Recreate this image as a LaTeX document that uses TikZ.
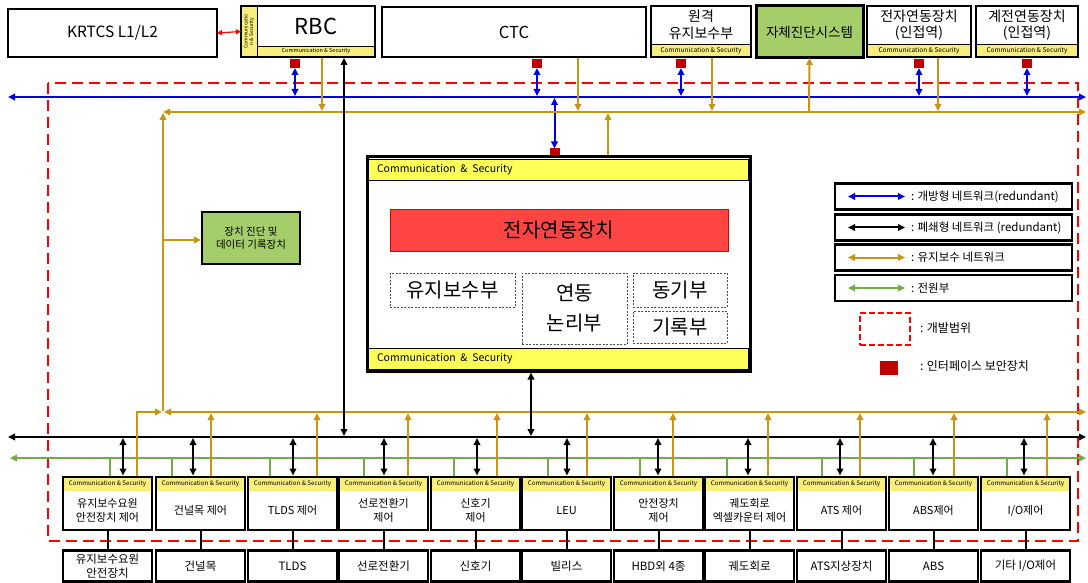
\documentclass[tikz,border=0pt]{standalone}
\usepackage{fontspec}
\setmainfont{Noto Sans CJK KR}
\usetikzlibrary{arrows.meta}
\definecolor{cblue}{RGB}{0,0,230}
\definecolor{cgold}{RGB}{200,150,20}
\definecolor{cgreen}{RGB}{112,173,71}
\definecolor{cyel}{RGB}{255,255,90}
\definecolor{cyel2}{RGB}{247,238,125}
\definecolor{cbar}{RGB}{255,68,68}
\definecolor{csq}{RGB}{192,0,0}
\definecolor{cgbox}{RGB}{165,205,105}
\begin{document}
\begin{tikzpicture}[x=1pt,y=-1pt,
  every node/.style={inner sep=0pt, outer sep=0pt},
  >={Triangle[length=7pt,width=6.5pt]},
  bord/.style={draw=black, line width=2.5pt},
  wbox/.style={fill=white, align=center},
  strip/.style={fill=cyel2, draw=black, line width=0.5pt, font=\fontsize{6.2}{7}\selectfont},
  blu/.style={draw=cblue, line width=2pt},
  gld/.style={draw=cgold, line width=2pt},
  grn/.style={draw=cgreen, line width=2pt},
  blk/.style={draw=black, line width=2pt},
  sqr/.style={fill=csq, minimum width=10pt, minimum height=9pt},
  dbox/.style={draw=black!70, line width=0.7pt, dash pattern=on 2pt off 1.5pt, align=center, font=\fontsize{20}{30}\selectfont}
]
\useasboundingbox (0,0) rectangle (1088,583);
\fill[white] (0,0) rectangle (1088,583);

% development scope
\draw[draw=red, line width=2.6pt, dash pattern=on 11pt off 6pt] (48,83) rectangle (1078,541);

% ---------- top row ----------
\node[wbox, bord, minimum width=209pt, minimum height=48pt, font=\fontsize{15.5}{18}\selectfont] (krtcs) at (112.5,33) {KRTCS L1/L2};

\node[fill=white, minimum width=118pt, minimum height=40pt, font=\fontsize{22}{26}\selectfont] (rbc) at (316,26) {RBC};
\node[strip, minimum width=118pt, minimum height=11pt, anchor=north west, font=\fontsize{5.5}{6}\selectfont] (rbcs) at (257,46) {Communication \& Security};
\node[strip, minimum width=16pt, minimum height=51pt, anchor=north west] (rbcl) at (241,6) {};
\node[rotate=90, align=center, font=\fontsize{5}{5.5}\selectfont] (rbclt) at (rbcl.center) {Communicatio\\n \& Security};
\draw[bord] (rbcl.north west) rectangle (rbcs.south east);
\draw[draw=red, line width=1.2pt, {Triangle[length=5pt,width=5pt]}-{Triangle[length=5pt,width=5pt]}] (krtcs.east) -- (rbcl.west);

\node[wbox, bord, minimum width=264pt, minimum height=50pt, font=\fontsize{16.5}{19}\selectfont] (ctc) at (514,32) {CTC};

\node[wbox, minimum width=100pt, minimum height=38pt, font=\fontsize{14}{17}\selectfont] (rm) at (701,25) {원격\\유지보수부};
\node[strip, minimum width=100pt, minimum height=13pt, anchor=north west, font=\fontsize{6.5}{7}\selectfont] (rms) at (651,44) {Communication \& Security};
\draw[bord] (rm.north west) rectangle (rms.south east);

\node[bord, line width=3pt, fill=cgbox, minimum width=107pt, minimum height=52pt, font=\fontsize{13.5}{16}\selectfont] (self) at (809.5,32) {자체진단시스템};

\node[wbox, minimum width=104pt, minimum height=38pt, font=\fontsize{14}{16}\selectfont] (ei) at (919,25) {전자연동장치\\(인접역)};
\node[strip, minimum width=104pt, minimum height=13pt, anchor=north west, font=\fontsize{6.5}{7}\selectfont] (eis) at (867,44) {Communication \& Security};
\draw[bord] (ei.north west) rectangle (eis.south east);

\node[wbox, minimum width=102pt, minimum height=38pt, font=\fontsize{14}{16}\selectfont] (ri) at (1027,25) {계전연동장치\\(인접역)};
\node[strip, minimum width=102pt, minimum height=13pt, anchor=north west, font=\fontsize{6.5}{7}\selectfont] (ris) at (976,44) {Communication \& Security};
\draw[bord] (ri.north west) rectangle (ris.south east);

% interface security devices
\node[sqr] (q1) at (295,63.5) {};
\node[sqr] (q2) at (537,63.5) {};
\node[sqr] (q3) at (681,63.5) {};
\node[sqr] (q4) at (919,63.5) {};
\node[sqr] (q5) at (1027,63.5) {};
\node[sqr] (q6) at (554.5,153) {};

% ---------- open network (blue) ----------
\draw[blu,<->] (8,97) -- (1086,97);
\draw[blu,<->] (q1.south) -- (295,96);
\draw[blu,<->] (q2.south) -- (537,96);
\draw[blu,<->] (q3.south) -- (681,96);
\draw[blu,<->] (q4.south) -- (919,96);
\draw[blu,<->] (q5.south) -- (1027,96);
\draw[blu,<->] (554.5,98) -- (q6.north);

% ---------- maintenance network (gold) ----------
\draw[gld,<->] (163,112) -- (1086,112);
\draw[gld,->] (322,58) -- (322,111);
\draw[gld,->] (578,58) -- (578,111);
\draw[gld,->] (712,58) -- (712,111);
\draw[gld,->] (938,58) -- (938,111);
\draw[gld,->] (809,112) -- (self.south);
\draw[gld,->] (608,157) -- (608,113);
\draw[gld,->] (163,411) -- (163,113);
\draw[gld,<->] (164,412) -- (1086,412);
\draw[gld,->] (163,240) -- (201,240);

\node[bord, fill=cgbox, minimum width=98pt, minimum height=52pt, align=center, font=\fontsize{10.5}{13}\selectfont] (diag) at (251,238) {장치 진단 및\\데이터 기록장치};

% ---------- closed network (black), power (green) ----------
\draw[blk,<->] (8,437) -- (1086,437);
\draw[grn,<->] (10,458) -- (1086,458);
\draw[blk,<->] (344,58) -- (344,436);

% ---------- central interlocking ----------
\node[fill=white, minimum width=383pt, minimum height=214pt] (eil) at (558.5,264) {};
\node[fill=cyel, draw=black, line width=0.8pt, minimum width=380pt, minimum height=21pt, anchor=north west] (eilt) at (368.5,159) {};
\node[anchor=west, font=\fontsize{10.5}{12}\selectfont] (eiltt) at (377,170) {Communication\ \ \&\ \ Security};
\node[fill=cyel, draw=black, line width=0.8pt, minimum width=380pt, minimum height=21pt, anchor=north west] (eilb) at (368.5,348) {};
\node[anchor=west, font=\fontsize{10.5}{12}\selectfont] (eilbt) at (377,358.5) {Communication\ \ \&\ \ Security};
\node[fill=cbar, draw=red!85!black, line width=0.6pt, minimum width=338pt, minimum height=42pt, font=\fontsize{20}{24}\selectfont] (bar) at (559,230) {전자연동장치};
\node[dbox, minimum width=125pt, minimum height=34pt] (mt) at (452.5,290) {유지보수부};
\node[dbox, minimum width=105pt, minimum height=71pt] (lg) at (574.5,308.5) {연동\\논리부};
\node[dbox, minimum width=94pt, minimum height=34pt] (sy) at (680,290) {동기부};
\node[dbox, minimum width=94pt, minimum height=32pt] (rc) at (680,327) {기록부};
\draw[bord, line width=3pt] (eil.north west) rectangle (eil.south east);
\draw[blk,<->] (531,372.5) -- (531,436);

% ---------- legend ----------
\foreach \n/\y/\c/\t in {1/196.5/cblue/{: 개방형 네트워크(redundant)}, 2/227.5/black/{: 폐쇄형 네트워크 (redundant)}, 3/257.5/cgold/{: 유지보수 네트워크}, 4/288/cgreen/{: 전원부}}{
  \node[bord, minimum width=237pt, minimum height=26pt] (lg\n) at (953.5,\y) {};
  \draw[draw=\c, line width=2pt, <->] (848,\y) -- (905,\y);
  \node[anchor=west, font=\fontsize{11.5}{13}\selectfont] (lt\n) at (911,\y) {\t};
}
\node[draw=red, line width=2.2pt, dash pattern=on 6pt off 3pt, minimum width=50pt, minimum height=32pt] (lgd) at (885,329) {};
\node[anchor=west, font=\fontsize{12}{14}\selectfont] (lgdt) at (920,328) {: 개발범위};
\node[fill=csq, minimum width=18pt, minimum height=14pt] (lgq) at (889,368) {};
\node[anchor=west, font=\fontsize{12}{14}\selectfont] (lgqt) at (920,366) {: 인터페이스 보안장치};

% ---------- field controllers and devices ----------
\foreach \i/\L/\t/\dt/\bx/\gx/\grx in {
  1/63/{유지보수요원\\안전장치 제어}/{유지보수요원\\안전장치}/123/137/110,
  2/156/{건널목 제어}/{건널목}/193/211/172,
  3/248/{TLDS 제어}/{TLDS}/293/317/270,
  4/339/{선로전환기\\제어}/{선로전환기}/384/408/364,
  5/431/{신호기\\제어}/{신호기}/477/497/454,
  6/522/{LEU}/{빌리스}/567/587/548,
  7/614/{안전장치\\제어}/{HBD외 4종}/658/673/640,
  8/705/{궤도회로\\엑셀카운터 제어}/{궤도회로}/748/768/727,
  9/797/{ATS 제어}/{ATS지상장치}/840/860/822,
  10/889/{ABS제어}/{ABS}/933/954/914,
  11/981/{I/O제어}/{기타 I/O제어}/1024/1047/1007}{
  \node[strip, minimum width=89pt, minimum height=14pt, anchor=north west] (s\i) at (\L,477) {Communication \& Security};
  \node[wbox, minimum width=89pt, minimum height=39pt, anchor=north west, font=\fontsize{11}{14}\selectfont] (c\i) at (\L,491) {\t};
  \draw[bord] (s\i.north west) rectangle (c\i.south east);
  \node[wbox, bord, minimum width=89pt, minimum height=31pt, font=\fontsize{11.5}{14}\selectfont] (d\i) at (\L+44.5,566) {\dt};
  \draw[line width=2pt] (c\i.south) -- (d\i.north);
  \draw[blk,<->] (\bx,438) -- (\bx,475.5);
  \draw[grn] (\grx,458) -- (\grx,476);
  \ifnum\i=1
    \draw[gld,->] (\gx,476) -- (\gx,412) -- (162,412);
  \else
    \draw[gld,->] (\gx,476) -- (\gx,413);
  \fi
}
\end{tikzpicture}
\end{document}
